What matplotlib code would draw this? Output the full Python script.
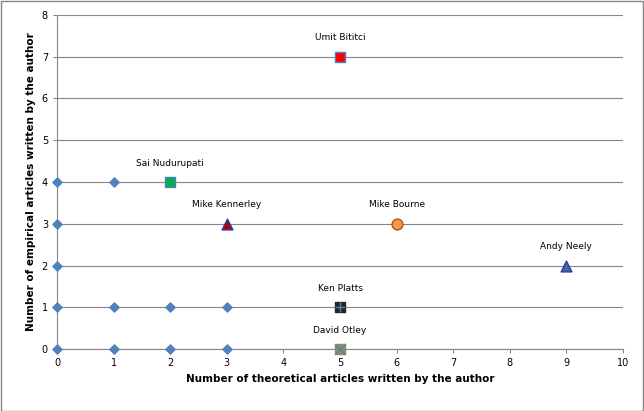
import matplotlib
matplotlib.use("Agg")
import matplotlib.pyplot as plt

others_x = [0, 1, 0, 0, 0, 1, 2, 3, 0, 1, 2, 3]
others_y = [4, 4, 3, 2, 1, 1, 1, 1, 0, 0, 0, 0]

names = ["Umit Bititci", "Sai Nudurupati", "Mike Kennerley", "Mike Bourne",
         "Andy Neely", "Ken Platts", "David Otley"]
nx = [5, 2, 3, 6, 9, 5, 5]
ny = [7, 4, 3, 3, 2, 1, 0]
markers = ["s", "s", "^", "o", "^", "s", "s"]
overlay = [None, None, None, None, None, "+", "x"]
faces = ["#FF0000", "#00B050", "#C00000", "#F79646", "#4F5FA8", "#262626", "#948A54"]
edges = ["#4F81BD", "#4F81BD", "#1F3F9F", "#B05010", "#1F3F9F", "#262626", "#948A54"]

fig = plt.figure(figsize=(6.44, 4.11), dpi=100)
ax = fig.add_axes([57/644, 1-349/411, 566/644, 334/411])
ax.scatter(others_x, others_y, marker="D", s=22, color="#4F81BD", zorder=3, clip_on=False)
for x, y, n, m, o, f, e in zip(nx, ny, names, markers, overlay, faces, edges):
    ax.scatter([x], [y], marker=m, s=60, facecolor=f, edgecolor=e, linewidths=1, zorder=4, clip_on=False)
    if o:
        ax.scatter([x], [y], marker=o, s=60, color="#4F81BD", linewidths=1, zorder=5, clip_on=False)
    ax.text(x, y + 0.45, n, fontsize=6.5, ha="center", va="center", family="DejaVu Sans")
ax.set_xlim(0, 10)
ax.set_ylim(0, 8)
ax.set_xticks(range(11))
ax.set_yticks(range(9))
ax.tick_params(labelsize=7, length=3, color="#868686")
ax.yaxis.grid(True, color="#868686", linewidth=0.8)
ax.set_axisbelow(True)
for s in ["top", "right"]:
    ax.spines[s].set_visible(False)
for s in ["left", "bottom"]:
    ax.spines[s].set_color("#868686")
ax.set_xlabel("Number of theoretical articles written by the author", fontsize=7.5, fontweight="bold")
ax.set_ylabel("Number of empirical articles written by the author", fontsize=7.5, fontweight="bold")
fig.patches.append(plt.Rectangle((0.001, 0.001), 0.997, 0.997, transform=fig.transFigure,
                                 fill=False, edgecolor="#868686", linewidth=1))
fig.savefig("out.png", dpi=100)
